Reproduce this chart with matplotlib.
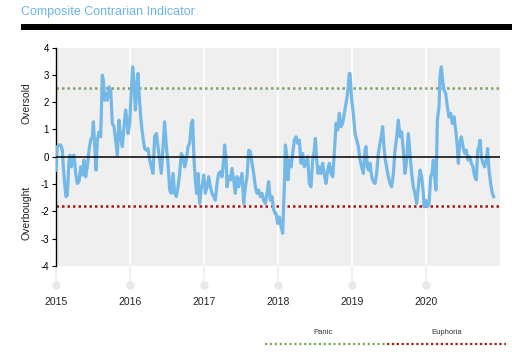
import matplotlib
matplotlib.use("Agg")
import matplotlib.pyplot as plt
from matplotlib.lines import Line2D
from matplotlib.patches import Rectangle

plt.rcParams['font.family'] = ['Liberation Sans', 'DejaVu Sans']

title = "Composite Contrarian Indicator"
years = [2015, 2016, 2017, 2018, 2019, 2020]
year_labels = ["2015", "2016", "2017", "2018", "2019", "2020"]
panic_level = 2.5
euphoria_level = -1.8

dates_2015 = [2015.000, 2015.018, 2015.041, 2015.063, 2015.086, 2015.099, 2015.117, 2015.135, 2015.153, 2015.176,
              2015.189, 2015.207, 2015.221, 2015.243, 2015.266, 2015.288, 2015.311, 2015.333, 2015.356, 2015.378,
              2015.401, 2015.423, 2015.446, 2015.468, 2015.491, 2015.505, 2015.523, 2015.541, 2015.559, 2015.581,
              2015.604, 2015.626, 2015.640, 2015.658, 2015.680, 2015.694, 2015.716, 2015.739, 2015.761, 2015.784,
              2015.806, 2015.829, 2015.851, 2015.874, 2015.896, 2015.919, 2015.941, 2015.964]
vals_2015 = [-0.49, 0.37, 0.43, 0.43, 0.24, -0.37, -0.98, -1.46, -1.40, -0.12,
             0.06, -0.37, 0.00, 0.06, -0.61, -0.98, -0.91, -0.37, -0.67, -0.12,
             -0.73, -0.37, 0.24, 0.61, 0.73, 1.28, 0.37, -0.49, 0.61, 0.91,
             0.73, 2.99, 2.80, 2.07, 2.32, 2.07, 2.56, 2.44, 1.22, 1.10,
             0.61, 0.06, 1.34, 0.73, 0.37, 1.10, 1.71, 1.22]

dates_2016 = [2015.973, 2015.996, 2016.018, 2016.036, 2016.054, 2016.072, 2016.090, 2016.108, 2016.126, 2016.144,
              2016.162, 2016.180, 2016.198, 2016.221, 2016.243, 2016.266, 2016.288, 2016.311, 2016.333, 2016.356,
              2016.378, 2016.401, 2016.423, 2016.446, 2016.468, 2016.491, 2016.514, 2016.536, 2016.559, 2016.581,
              2016.604, 2016.626, 2016.649, 2016.671, 2016.694, 2016.716, 2016.739, 2016.761, 2016.784, 2016.806,
              2016.829, 2016.847, 2016.865, 2016.883, 2016.901, 2016.919, 2016.941, 2016.964]
vals_2016 = [0.85, 1.22, 2.44, 3.29, 2.80, 1.71, 2.32, 3.05, 2.20, 1.46,
             0.98, 0.61, 0.30, 0.24, 0.30, -0.12, -0.37, -0.61, 0.73, 0.85,
             0.37, -0.12, -0.61, 0.37, 1.28, 0.37, -0.24, -1.22, -1.34, -0.61,
             -1.34, -1.46, -1.10, -0.61, 0.12, 0.00, -0.37, -0.12, 0.37, 0.49,
             1.22, 1.34, -0.12, -0.85, -1.34, -0.61, -1.71, -1.10]

dates_2017 = [2016.973, 2016.996, 2017.018, 2017.041, 2017.063, 2017.086, 2017.108, 2017.131, 2017.153, 2017.176,
              2017.198, 2017.221, 2017.243, 2017.266, 2017.279, 2017.297, 2017.311, 2017.333, 2017.356, 2017.378,
              2017.401, 2017.423, 2017.446, 2017.468, 2017.491, 2017.514, 2017.536, 2017.559, 2017.581, 2017.604,
              2017.626, 2017.649, 2017.671, 2017.694, 2017.716, 2017.739, 2017.761, 2017.784, 2017.806, 2017.829,
              2017.851, 2017.874, 2017.896, 2017.919, 2017.941, 2017.964]
vals_2017 = [-1.10, -0.67, -1.34, -1.10, -0.73, -1.10, -1.34, -1.46, -1.59, -0.98,
             -0.61, -0.55, -0.73, -0.12, 0.43, 0.00, -1.10, -0.73, -0.85, -0.43,
             -0.85, -1.34, -0.73, -1.10, -0.85, -0.61, -1.71, -1.10, -0.73, 0.24,
             0.18, -0.24, -0.61, -1.10, -1.34, -1.22, -1.46, -1.34, -1.59, -1.71,
             -1.34, -0.91, -1.59, -1.46, -1.95, -2.07]

dates_2018 = [2017.973, 2017.996, 2018.018, 2018.041, 2018.063, 2018.072, 2018.090, 2018.099, 2018.117, 2018.135,
              2018.153, 2018.176, 2018.198, 2018.221, 2018.243, 2018.266, 2018.288, 2018.311, 2018.333, 2018.356,
              2018.378, 2018.401, 2018.423, 2018.446, 2018.468, 2018.491, 2018.505, 2018.523, 2018.541, 2018.559,
              2018.581, 2018.604, 2018.626, 2018.649, 2018.671, 2018.694, 2018.716, 2018.739, 2018.761, 2018.784,
              2018.806, 2018.829, 2018.851, 2018.874, 2018.896, 2018.919, 2018.941, 2018.964]
vals_2018 = [-2.07, -2.44, -2.20, -2.56, -2.80, -2.07, -0.73, 0.43, 0.12, -0.85,
             -0.12, -0.37, 0.12, 0.61, 0.73, 0.49, 0.61, -0.24, 0.12, -0.37,
             -0.24, 0.00, -0.98, -1.10, -0.12, 0.24, 0.67, -0.12, -0.61, -0.37,
             -0.61, -0.24, -0.67, -0.98, -0.49, -0.24, -0.61, -0.73, 0.12, 1.22,
             0.98, 1.59, 1.10, 1.22, 1.59, 1.95, 2.32, 3.05]

dates_2019 = [2018.973, 2018.996, 2019.018, 2019.041, 2019.063, 2019.086, 2019.108, 2019.131, 2019.153, 2019.176,
              2019.189, 2019.207, 2019.225, 2019.243, 2019.266, 2019.288, 2019.311, 2019.333, 2019.356, 2019.378,
              2019.401, 2019.414, 2019.432, 2019.450, 2019.468, 2019.491, 2019.514, 2019.536, 2019.559, 2019.581,
              2019.604, 2019.626, 2019.649, 2019.671, 2019.694, 2019.716, 2019.739, 2019.761, 2019.784, 2019.806,
              2019.829, 2019.851, 2019.874, 2019.896, 2019.919, 2019.941, 2019.964]
vals_2019 = [3.05, 2.07, 1.59, 0.85, 0.61, 0.37, -0.12, -0.37, -0.61, 0.24,
             0.37, -0.37, -0.49, -0.24, -0.73, -0.91, -0.98, -0.61, 0.12, 0.49,
             0.85, 1.10, 0.37, -0.12, -0.37, -0.73, -0.98, -1.10, -0.61, 0.24,
             0.73, 1.34, 0.73, 0.91, 0.24, -0.61, -0.12, 0.85, 0.12, -0.61,
             -1.10, -1.34, -1.71, -1.10, -0.49, -0.73, -1.34]

dates_2020 = [2019.973, 2019.996, 2020.018, 2020.041, 2020.063, 2020.081, 2020.099, 2020.117, 2020.135, 2020.153,
              2020.176, 2020.189, 2020.207, 2020.225, 2020.243, 2020.266, 2020.288, 2020.311, 2020.333, 2020.356,
              2020.378, 2020.401, 2020.423, 2020.437, 2020.455, 2020.478, 2020.500, 2020.523, 2020.545, 2020.568,
              2020.590, 2020.613, 2020.635, 2020.658, 2020.680, 2020.698, 2020.716, 2020.730, 2020.748, 2020.770,
              2020.793, 2020.815, 2020.833, 2020.851, 2020.874, 2020.896, 2020.914]
vals_2020 = [-1.83, -1.59, -1.83, -1.71, -0.73, -0.61, -0.12, -0.73, -1.22, 1.34,
             1.83, 2.93, 3.29, 2.80, 2.44, 2.32, 1.83, 1.46, 1.59, 1.22,
             1.46, 0.98, 0.37, -0.24, 0.49, 0.73, 0.37, 0.12, 0.24, -0.12,
             0.00, -0.24, -0.37, -0.73, -0.85, 0.24, 0.37, 0.61, 0.00, -0.24,
             -0.37, -0.12, 0.30, -0.49, -0.98, -1.34, -1.46]

dates = dates_2015 + dates_2016 + dates_2017 + dates_2018 + dates_2019 + dates_2020
values = vals_2015 + vals_2016 + vals_2017 + vals_2018 + vals_2019 + vals_2020

W, H = 512, 354
fig = plt.figure(figsize=(W / 100, H / 100), dpi=100)
ax = fig.add_axes([56 / W, 1 - 266 / H, (500 - 56) / W, (266 - 47.5) / H])
ax.set_facecolor('#efefef')
ax.set_xlim(2015, 2021)
ax.set_ylim(-4, 4)

for y in years:
    ax.axvline(y, color='white', lw=1.2, zorder=1)
    ax.plot([y, y], [-4, -4.7], color='#eeeeee', lw=1.2, clip_on=False, zorder=1)
ax.plot(years, [-4.7] * len(years), 'o', color='#e9e9e9', ms=5, clip_on=False, zorder=2)

ax.axhline(panic_level, color='#7fa468', lw=1.8, ls=(0, (1, 1.2)), zorder=2)
ax.axhline(euphoria_level, color='#a31818', lw=1.8, ls=(0, (1, 1.2)), zorder=2)
ax.plot(dates, values, color='#74b8e8', lw=2.3, zorder=3, solid_joinstyle='round')
ax.axhline(0, color='black', lw=1.1, zorder=4)

for s in ['top', 'right', 'bottom']:
    ax.spines[s].set_visible(False)
ax.spines['left'].set_color('black')
ax.spines['left'].set_linewidth(1.0)
ax.set_yticks([-4, -3, -2, -1, 0, 1, 2, 3, 4])
ax.set_yticklabels(['-4', '-3', '-2', '-1', '0', '1', '2', '3', '4'])
ax.tick_params(axis='y', length=3, width=0.8, labelsize=7, pad=2, colors='black')
ax.set_xticks(years)
ax.set_xticklabels(year_labels)
ax.tick_params(axis='x', length=0, labelsize=7.5, pad=22, colors='#222222')
ax.grid(False)

fig.text(26 / W, 1 - 103 / H, 'Oversold', rotation=90, ha='center', va='center', fontsize=7.5, color='#222222')
fig.text(26 / W, 1 - 213 / H, 'Overbought', rotation=90, ha='center', va='center', fontsize=7.5, color='#222222')

fig.text(21 / W, 1 - 12 / H, title, ha='left', va='center', fontsize=9, color='#6cb4e6')
fig.add_artist(Rectangle((21 / W, 1 - 30 / H), 1 - 21 / W, 6 / H, transform=fig.transFigure,
                         color='black', lw=0))

fig.text(323 / W, 1 - 333 / H, 'Panic', ha='center', va='center', fontsize=5.5, color='#333333')
fig.text(447 / W, 1 - 333 / H, 'Euphoria', ha='center', va='center', fontsize=5.5, color='#333333')
fig.add_artist(Line2D([265 / W, 387 / W], [1 - 344 / H, 1 - 344 / H], transform=fig.transFigure,
                      color='#7fa468', lw=1.6, ls=(0, (1, 1.2))))
fig.add_artist(Line2D([387 / W, 506 / W], [1 - 344 / H, 1 - 344 / H], transform=fig.transFigure,
                      color='#a31818', lw=1.6, ls=(0, (1, 1.2))))

fig.savefig('out.png', dpi=100, facecolor='white')
